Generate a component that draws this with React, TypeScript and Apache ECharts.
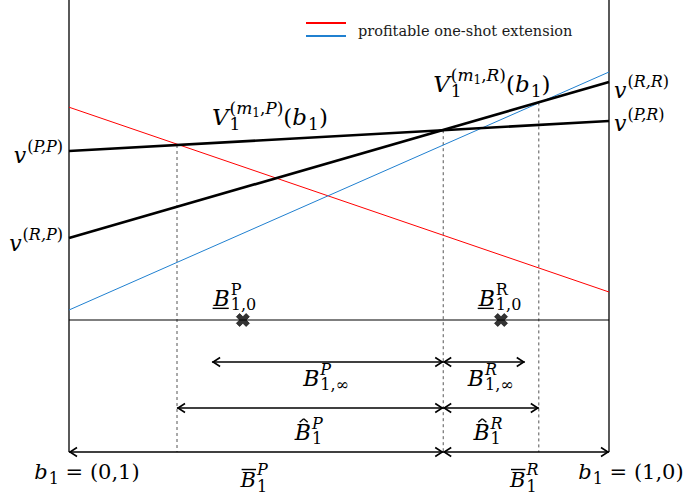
import React, { useEffect, useRef } from 'react';
import * as echarts from 'echarts';

const MATH_FONT = 'DejaVu Serif';
const INK = '#000000';

// b1 runs along the horizontal axis: 0 is (0,1), 1 is (1,0)
const bEnds = [0, 1];
const payoffP = [4.225, 4.975]; // V1^(m1,P)(b1)
const payoffR = [2.05, 5.95]; // V1^(m1,R)(b1)
const profitRed = [5.32, 0.7];
const profitBlue = [0.25, 6.2];

// crossing points and the dashed guides dropped from them
const cutoffX = [0.2, 0.693, 0.87];
const cutoffTop = [4.375, 4.745, 5.44];

// B_{1,0} markers on the b1 line
const markerX = [0.322, 0.8];

// interval arrows: B_{1,inf}, hat B_1, bar B_1
const rowY = [-1.05, -2.2, -3.3];
const infStart = [0.265, 0.693];
const infEnd = [0.693, 0.844];
const hatStart = [0.2, 0.693];
const hatEnd = [0.693, 0.87];
const barStart = [0, 0.693];
const barEnd = [0.693, 1];

const Y_MIN = -3.3;
const Y_MAX = 8;

type Run = {
  t: string;
  lv?: 'm' | 'sup' | 'sub' | 'ss';
  it?: boolean;
  stack?: boolean;
  deco?: 'over' | 'under' | 'hat';
  rise?: number;
};

type MathLabel = {
  at: number[];
  dx: number;
  dy: number;
  align: 'left' | 'center' | 'right';
  size: number;
  runs: Run[];
};

const sup = (t: string, it = false, extra: Partial<Run> = {}): Run => ({ t, lv: 'sup', it, ...extra });
const sub = (t: string, it = false, extra: Partial<Run> = {}): Run => ({ t, lv: 'sub', it, ...extra });
const main = (t: string, it = false, extra: Partial<Run> = {}): Run => ({ t, lv: 'm', it, ...extra });

const vRuns = (s: string): Run[] => [main('v', true), sup('(', false), sup(s, true), sup(')', false)];
const vPayoffRuns = (s: string): Run[] => [
  main('V', true),
  sub('1'),
  sup('(', false, { stack: true }),
  sup('m', true),
  { t: '1', lv: 'ss' },
  sup(',', false),
  sup(s, true),
  sup(')', false),
  main('(', false),
  main('b', true),
  sub('1'),
  main(')', false),
];

const mathLabels: MathLabel[] = [
  { at: [bEnds[0], payoffP[0]], dx: -6, dy: 4, align: 'right', size: 22, runs: vRuns('P,P') },
  { at: [bEnds[0], payoffR[0]], dx: -6, dy: 5, align: 'right', size: 22, runs: vRuns('R,P') },
  { at: [bEnds[1], payoffR[1]], dx: 5, dy: 8, align: 'left', size: 22, runs: vRuns('R,R') },
  { at: [bEnds[1], payoffP[1]], dx: 5, dy: 2, align: 'left', size: 22, runs: vRuns('P,R') },
  { at: [0.372, 5.075], dx: 0, dy: 0, align: 'center', size: 23, runs: vPayoffRuns('P') },
  { at: [0.783, 5.9], dx: 0, dy: 0, align: 'center', size: 23, runs: vPayoffRuns('R') },
  {
    at: [markerX[0], 0], dx: -8, dy: -22, align: 'center', size: 22,
    runs: [main('B', true, { deco: 'under' }), sup('P'), sub('1,0', false, { stack: true })],
  },
  {
    at: [markerX[1], 0], dx: -1, dy: -22, align: 'center', size: 22,
    runs: [main('B', true, { deco: 'under' }), sup('R'), sub('1,0', false, { stack: true })],
  },
  {
    at: [0.476, rowY[0]], dx: 0, dy: 16, align: 'center', size: 22,
    runs: [main('B', true), sup('P', true), sub('1,∞', false, { stack: true })],
  },
  {
    at: [0.781, rowY[0]], dx: 0, dy: 16, align: 'center', size: 22,
    runs: [main('B', true), sup('R', true), sub('1,∞', false, { stack: true })],
  },
  {
    at: [0.444, rowY[1]], dx: 0, dy: 24, align: 'center', size: 22,
    runs: [main('B', true, { deco: 'hat' }), sup('P', true), sub('1', false, { stack: true })],
  },
  {
    at: [0.776, rowY[1]], dx: 0, dy: 24, align: 'center', size: 22,
    runs: [main('B', true, { deco: 'hat' }), sup('R', true), sub('1', false, { stack: true })],
  },
  {
    at: [0.343, rowY[2]], dx: 0, dy: 28, align: 'center', size: 21,
    runs: [main('B', true, { deco: 'over' }), sup('P', true, { rise: -3 }), sub('1', false, { stack: true })],
  },
  {
    at: [0.843, rowY[2]], dx: 0, dy: 28, align: 'center', size: 21,
    runs: [main('B', true, { deco: 'over' }), sup('R', true, { rise: -3 }), sub('1', false, { stack: true })],
  },
  {
    at: [bEnds[0], rowY[2]], dx: 18, dy: 20, align: 'center', size: 21,
    runs: [main('b', true), sub('1'), main(' = (0,1)')],
  },
  {
    at: [bEnds[1], rowY[2]], dx: 22, dy: 20, align: 'center', size: 21,
    runs: [main('b', true), sub('1'), main(' = (1,0)')],
  },
];

let measureCtx: CanvasRenderingContext2D | null = null;
const measure = (t: string, size: number, it: boolean) => {
  if (!measureCtx) measureCtx = document.createElement('canvas').getContext('2d');
  if (!measureCtx) return t.length * size * 0.55;
  measureCtx.font = `${it ? 'italic ' : ''}${size}px "${MATH_FONT}"`;
  return measureCtx.measureText(t).width;
};

// lays out a label's runs into text pieces and decoration strokes
function layoutLabel(label: MathLabel) {
  const M = label.size;
  const S = Math.round(M * 0.74);
  const SS = Math.round(M * 0.52);
  const pieces: any[] = [];
  const strokes: number[][] = [];
  let x = 0;
  let maxX = 0;
  let scriptStart = 0;
  let prev = 'm';
  for (const r of label.runs) {
    const lv = r.lv || 'm';
    const size = lv === 'm' ? M : lv === 'ss' ? SS : S;
    if (lv === 'm') {
      x = maxX;
    } else if (r.stack) {
      x = scriptStart;
    } else if (prev === 'm') {
      x = maxX + 1;
      scriptStart = x;
    }
    const w = measure(r.t, size, !!r.it);
    let y = 0;
    if (lv === 'sup') y = -M * 0.37;
    else if (lv === 'sub') y = M * 0.3;
    else if (lv === 'ss') y = -M * 0.37 + M * 0.2;
    y += r.rise || 0;
    pieces.push({ x, y, t: r.t, size, it: !!r.it });
    if (r.deco === 'under') strokes.push([x - 1, M * 0.47, x + w - 1, M * 0.47]);
    if (r.deco === 'over') strokes.push([x + 1, -M * 0.5, x + w, -M * 0.5]);
    if (r.deco === 'hat') {
      strokes.push([x + w * 0.3, -M * 0.44, x + w * 0.55, -M * 0.6]);
      strokes.push([x + w * 0.55, -M * 0.6, x + w * 0.8, -M * 0.44]);
    }
    x += w;
    maxX = Math.max(maxX, x);
    prev = lv;
  }
  const shift = label.align === 'center' ? -maxX / 2 : label.align === 'right' ? -maxX : 0;
  return { pieces, strokes, shift };
}

function buildOption(): echarts.EChartsOption {
  const lineSeries = (name: string, data: number[][], color: string, width: number, type: any = 'solid', z = 2) => ({
    name,
    type: 'line' as const,
    data,
    symbol: 'none',
    silent: true,
    z,
    lineStyle: { color, width, type },
  });

  const arrowData = [
    ...infStart.map((s, i) => [s, infEnd[i], rowY[0]]),
    ...hatStart.map((s, i) => [s, hatEnd[i], rowY[1]]),
    ...barStart.map((s, i) => [s, barEnd[i], rowY[2]]),
  ];

  const layouts = mathLabels.map(layoutLabel);

  return {
    animation: false,
    grid: { left: 69, right: 75, top: 0, bottom: 47 },
    xAxis: { type: 'value', min: 0, max: 1, show: false },
    yAxis: { type: 'value', min: Y_MIN, max: Y_MAX, show: false },
    graphic: [
      { type: 'line', shape: { x1: 306, y1: 23, x2: 346, y2: 23 }, style: { stroke: '#ff0000', lineWidth: 2 } },
      { type: 'line', shape: { x1: 306, y1: 36, x2: 346, y2: 36 }, style: { stroke: '#2080d0', lineWidth: 2 } },
      {
        type: 'text',
        x: 358,
        y: 31,
        style: {
          text: 'profitable one-shot extension',
          fontFamily: MATH_FONT,
          fontSize: 14.5,
          fill: '#1a1a1a',
          align: 'left',
          verticalAlign: 'middle',
        },
      },
    ],
    series: [
      lineSeries('frame-left', [[bEnds[0], Y_MIN], [bEnds[0], Y_MAX]], INK, 1.3),
      lineSeries('frame-right', [[bEnds[1], Y_MIN], [bEnds[1], Y_MAX]], INK, 1.3),
      lineSeries('b1-line', [[bEnds[0], 0], [bEnds[1], 0]], INK, 1.2),
      ...cutoffX.map((c, i) =>
        lineSeries('cutoff-' + i, [[c, cutoffTop[i]], [c, Y_MIN]], '#555', 1, [3, 3], 1)
      ),
      lineSeries('profitable-red', bEnds.map((b, i) => [b, profitRed[i]]), '#ff0000', 1, 'solid', 3),
      lineSeries('profitable-blue', bEnds.map((b, i) => [b, profitBlue[i]]), '#2080d0', 1, 'solid', 3),
      lineSeries('V-P', bEnds.map((b, i) => [b, payoffP[i]]), INK, 2.6, 'solid', 4),
      lineSeries('V-R', bEnds.map((b, i) => [b, payoffR[i]]), INK, 2.6, 'solid', 4),
      {
        name: 'B10',
        type: 'scatter',
        silent: true,
        z: 5,
        data: markerX.map((x) => [x, 0]),
        symbol: 'path://M0,3 L3,0 L6,3 L9,0 L12,3 L9,6 L12,9 L9,12 L6,9 L3,12 L0,9 L3,6 Z',
        symbolSize: 13,
        itemStyle: { color: INK, borderColor: INK, borderWidth: 0.8 },
      },
      {
        name: 'intervals',
        type: 'custom',
        silent: true,
        z: 5,
        data: arrowData,
        renderItem: (params: any, api: any) => {
          const y = api.value(2);
          const a = api.coord([api.value(0), y]);
          const b = api.coord([api.value(1), y]);
          const s = { stroke: INK, lineWidth: 1.6, fill: 'none' };
          return {
            type: 'group',
            children: [
              { type: 'line', shape: { x1: a[0], y1: a[1], x2: b[0], y2: b[1] }, style: s },
              { type: 'polyline', shape: { points: [[a[0] + 8, a[1] - 4.5], [a[0] + 1, a[1]], [a[0] + 8, a[1] + 4.5]] }, style: s },
              { type: 'polyline', shape: { points: [[b[0] - 8, b[1] - 4.5], [b[0] - 1, b[1]], [b[0] - 8, b[1] + 4.5]] }, style: s },
            ],
          };
        },
      },
      {
        name: 'labels',
        type: 'custom',
        silent: true,
        z: 6,
        data: mathLabels.map((l, i) => [l.at[0], l.at[1], i]),
        renderItem: (params: any, api: any) => {
          const idx = api.value(2);
          const label = mathLabels[idx];
          const lay = layouts[idx];
          const p = api.coord([label.at[0], label.at[1]]);
          const ox = p[0] + label.dx + lay.shift;
          const oy = p[1] + label.dy;
          const children: any[] = lay.pieces.map((pc: any) => ({
            type: 'text',
            x: ox + pc.x,
            y: oy + pc.y,
            style: {
              text: pc.t,
              fontFamily: MATH_FONT,
              fontSize: pc.size,
              fontStyle: pc.it ? 'italic' : 'normal',
              fill: INK,
              align: 'left',
              verticalAlign: 'middle',
            },
          }));
          lay.strokes.forEach((st) =>
            children.push({
              type: 'line',
              shape: { x1: ox + st[0], y1: oy + st[1], x2: ox + st[2], y2: oy + st[3] },
              style: { stroke: INK, lineWidth: 1.4 },
            })
          );
          return { type: 'group', children };
        },
      },
    ] as any,
  };
}

export default function App() {
  const ref = useRef<HTMLDivElement>(null);
  useEffect(() => {
    if (!ref.current) return;
    const chart = echarts.init(ref.current, undefined, { renderer: 'svg' });
    chart.setOption(buildOption());
    return () => chart.dispose();
  }, []);
  return (
    <div
      ref={ref}
      style={{ position: 'fixed', left: 0, top: 0, width: 684, height: 499, background: '#fff' }}
    />
  );
}
